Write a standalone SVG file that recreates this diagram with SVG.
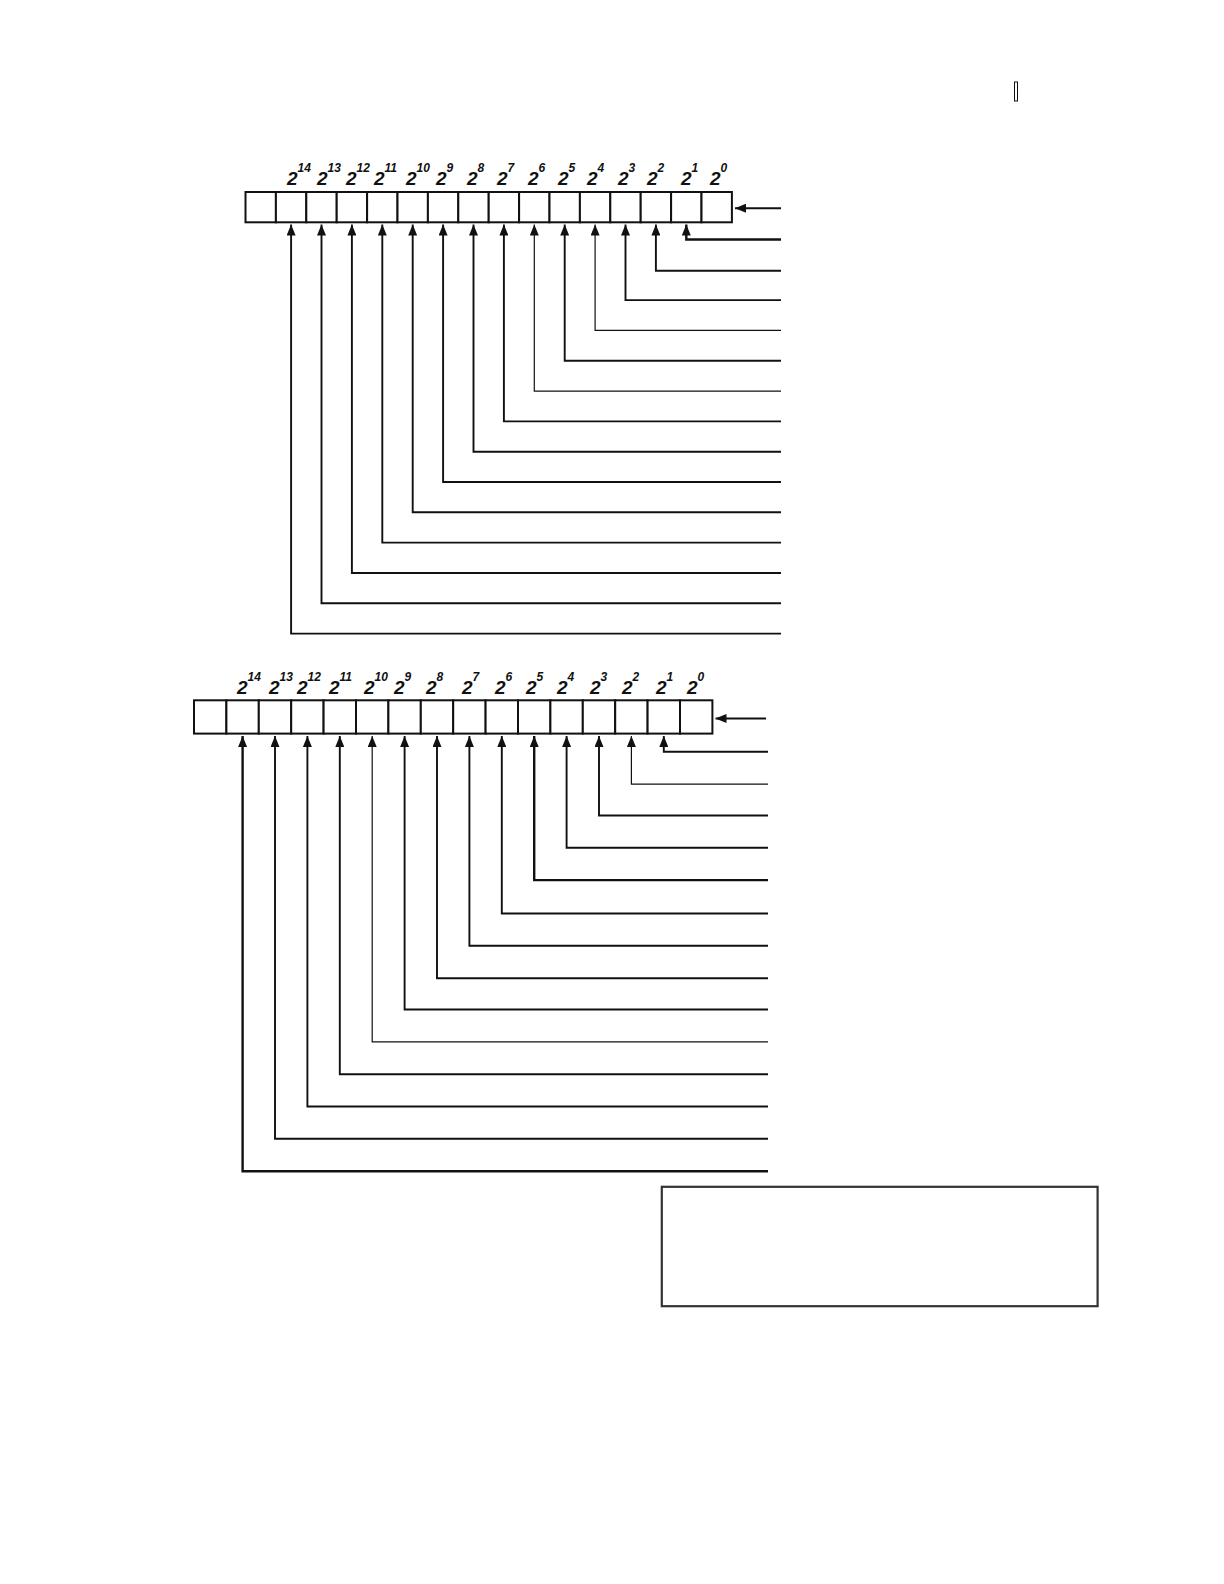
<svg xmlns="http://www.w3.org/2000/svg" width="1224" height="1584" viewBox="0 0 1224 1584">
<style>
.cell{fill:#fff;stroke:#111;stroke-width:2}
.ln{fill:none;stroke:#111;stroke-width:1.9}
.thin{stroke-width:1.2}
.thick{stroke-width:2.4}
.b{font-family:"Liberation Sans",Arial,sans-serif;font-style:italic;font-weight:bold;font-size:19px;fill:#111}
.s{font-size:12px}
</style>
<defs>
<marker id="ah" markerUnits="userSpaceOnUse" markerWidth="11" markerHeight="9" refX="11" refY="4.5" orient="auto">
<path d="M0,0 L11,4.5 L0,9 z" fill="#111"/>
</marker>
</defs>
<rect width="1224" height="1584" fill="#fff"/>
<rect id="mark" x="1014.5" y="82" width="3" height="19" fill="none" stroke="#111" stroke-width="1"/>

<g id="register-top">
<rect class="cell" x="245.5" y="192" width="30.4" height="30.3"/>
<rect class="cell" x="275.9" y="192" width="30.4" height="30.3"/>
<rect class="cell" x="306.3" y="192" width="30.4" height="30.3"/>
<rect class="cell" x="336.7" y="192" width="30.4" height="30.3"/>
<rect class="cell" x="367.1" y="192" width="30.4" height="30.3"/>
<rect class="cell" x="397.5" y="192" width="30.4" height="30.3"/>
<rect class="cell" x="427.9" y="192" width="30.4" height="30.3"/>
<rect class="cell" x="458.3" y="192" width="30.4" height="30.3"/>
<rect class="cell" x="488.7" y="192" width="30.4" height="30.3"/>
<rect class="cell" x="519.1" y="192" width="30.4" height="30.3"/>
<rect class="cell" x="549.5" y="192" width="30.4" height="30.3"/>
<rect class="cell" x="579.9" y="192" width="30.4" height="30.3"/>
<rect class="cell" x="610.3" y="192" width="30.4" height="30.3"/>
<rect class="cell" x="640.7" y="192" width="30.4" height="30.3"/>
<rect class="cell" x="671.1" y="192" width="30.4" height="30.3"/>
<rect class="cell" x="701.5" y="192" width="30.4" height="30.3"/>
</g>
<g id="labels-top">
<text class="b" x="287" y="185">2<tspan class="s" dy="-13">14</tspan></text>
<text class="b" x="317" y="185">2<tspan class="s" dy="-13">13</tspan></text>
<text class="b" x="346" y="185">2<tspan class="s" dy="-13">12</tspan></text>
<text class="b" x="374" y="185">2<tspan class="s" dy="-13">11</tspan></text>
<text class="b" x="406" y="185">2<tspan class="s" dy="-13">10</tspan></text>
<text class="b" x="436" y="185">2<tspan class="s" dy="-13">9</tspan></text>
<text class="b" x="467" y="185">2<tspan class="s" dy="-13">8</tspan></text>
<text class="b" x="497" y="185">2<tspan class="s" dy="-13">7</tspan></text>
<text class="b" x="528" y="185">2<tspan class="s" dy="-13">6</tspan></text>
<text class="b" x="558" y="185">2<tspan class="s" dy="-13">5</tspan></text>
<text class="b" x="587" y="185">2<tspan class="s" dy="-13">4</tspan></text>
<text class="b" x="618" y="185">2<tspan class="s" dy="-13">3</tspan></text>
<text class="b" x="647" y="185">2<tspan class="s" dy="-13">2</tspan></text>
<text class="b" x="681" y="185">2<tspan class="s" dy="-13">1</tspan></text>
<text class="b" x="710" y="185">2<tspan class="s" dy="-13">0</tspan></text>
</g>
<g id="connectors-top">
<path class="ln" d="M781,208.2 H735" marker-end="url(#ah)"/>
<path class="ln thick" d="M781,239.5 H686.3 V224.5" marker-end="url(#ah)"/>
<path class="ln" d="M781,270.8 H655.9 V224.5" marker-end="url(#ah)"/>
<path class="ln" d="M781,300.1 H625.5 V224.5" marker-end="url(#ah)"/>
<path class="ln thin" d="M781,330.4 H595.1 V224.5" marker-end="url(#ah)"/>
<path class="ln" d="M781,360.7 H564.7 V224.5" marker-end="url(#ah)"/>
<path class="ln thin" d="M781,391.1 H534.3 V224.5" marker-end="url(#ah)"/>
<path class="ln" d="M781,421.4 H503.9 V224.5" marker-end="url(#ah)"/>
<path class="ln" d="M781,451.7 H473.5 V224.5" marker-end="url(#ah)"/>
<path class="ln" d="M781,482 H443.1 V224.5" marker-end="url(#ah)"/>
<path class="ln" d="M781,512.3 H412.7 V224.5" marker-end="url(#ah)"/>
<path class="ln" d="M781,542.6 H382.3 V224.5" marker-end="url(#ah)"/>
<path class="ln" d="M781,573 H351.9 V224.5" marker-end="url(#ah)"/>
<path class="ln" d="M781,603.3 H321.5 V224.5" marker-end="url(#ah)"/>
<path class="ln" d="M781,633.6 H291.1 V224.5" marker-end="url(#ah)"/>
</g>

<g id="register-bottom">
<rect class="cell" x="194" y="700.3" width="32.4" height="33.3"/>
<rect class="cell" x="226.4" y="700.3" width="32.4" height="33.3"/>
<rect class="cell" x="258.8" y="700.3" width="32.4" height="33.3"/>
<rect class="cell" x="291.2" y="700.3" width="32.4" height="33.3"/>
<rect class="cell" x="323.6" y="700.3" width="32.4" height="33.3"/>
<rect class="cell" x="356" y="700.3" width="32.4" height="33.3"/>
<rect class="cell" x="388.4" y="700.3" width="32.4" height="33.3"/>
<rect class="cell" x="420.8" y="700.3" width="32.4" height="33.3"/>
<rect class="cell" x="453.2" y="700.3" width="32.4" height="33.3"/>
<rect class="cell" x="485.6" y="700.3" width="32.4" height="33.3"/>
<rect class="cell" x="518" y="700.3" width="32.4" height="33.3"/>
<rect class="cell" x="550.4" y="700.3" width="32.4" height="33.3"/>
<rect class="cell" x="582.8" y="700.3" width="32.4" height="33.3"/>
<rect class="cell" x="615.2" y="700.3" width="32.4" height="33.3"/>
<rect class="cell" x="647.6" y="700.3" width="32.4" height="33.3"/>
<rect class="cell" x="680" y="700.3" width="32.4" height="33.3"/>
</g>
<g id="labels-bottom">
<text class="b" x="237" y="693.5">2<tspan class="s" dy="-13">14</tspan></text>
<text class="b" x="269" y="693.5">2<tspan class="s" dy="-13">13</tspan></text>
<text class="b" x="297" y="693.5">2<tspan class="s" dy="-13">12</tspan></text>
<text class="b" x="329" y="693.5">2<tspan class="s" dy="-13">11</tspan></text>
<text class="b" x="364" y="693.5">2<tspan class="s" dy="-13">10</tspan></text>
<text class="b" x="394" y="693.5">2<tspan class="s" dy="-13">9</tspan></text>
<text class="b" x="426" y="693.5">2<tspan class="s" dy="-13">8</tspan></text>
<text class="b" x="462" y="693.5">2<tspan class="s" dy="-13">7</tspan></text>
<text class="b" x="495" y="693.5">2<tspan class="s" dy="-13">6</tspan></text>
<text class="b" x="526" y="693.5">2<tspan class="s" dy="-13">5</tspan></text>
<text class="b" x="557" y="693.5">2<tspan class="s" dy="-13">4</tspan></text>
<text class="b" x="590" y="693.5">2<tspan class="s" dy="-13">3</tspan></text>
<text class="b" x="622" y="693.5">2<tspan class="s" dy="-13">2</tspan></text>
<text class="b" x="656" y="693.5">2<tspan class="s" dy="-13">1</tspan></text>
<text class="b" x="687" y="693.5">2<tspan class="s" dy="-13">0</tspan></text>
</g>
<g id="connectors-bottom">
<path class="ln" d="M766,718.5 H715.5" marker-end="url(#ah)"/>
<path class="ln" d="M768,751.8 H663.8 V736" marker-end="url(#ah)"/>
<path class="ln thin" d="M768,784.1 H631.4 V736" marker-end="url(#ah)"/>
<path class="ln" d="M768,815.5 H599 V736" marker-end="url(#ah)"/>
<path class="ln" d="M768,847.8 H566.6 V736" marker-end="url(#ah)"/>
<path class="ln thick" d="M768,880.1 H534.2 V736" marker-end="url(#ah)"/>
<path class="ln" d="M768,913.5 H501.8 V736" marker-end="url(#ah)"/>
<path class="ln" d="M768,945.8 H469.4 V736" marker-end="url(#ah)"/>
<path class="ln" d="M768,978.2 H437 V736" marker-end="url(#ah)"/>
<path class="ln" d="M768,1009.5 H404.6 V736" marker-end="url(#ah)"/>
<path class="ln thin" d="M768,1041.8 H372.2 V736" marker-end="url(#ah)"/>
<path class="ln" d="M768,1074.2 H339.8 V736" marker-end="url(#ah)"/>
<path class="ln" d="M768,1106.5 H307.4 V736" marker-end="url(#ah)"/>
<path class="ln" d="M768,1138.8 H275 V736" marker-end="url(#ah)"/>
<path class="ln thick" d="M768,1171.2 H242.6 V736" marker-end="url(#ah)"/>
</g>

<rect id="note-box" x="661.8" y="1186.8" width="435.8" height="119.4" fill="none" stroke="#333" stroke-width="2.2"/>
</svg>
